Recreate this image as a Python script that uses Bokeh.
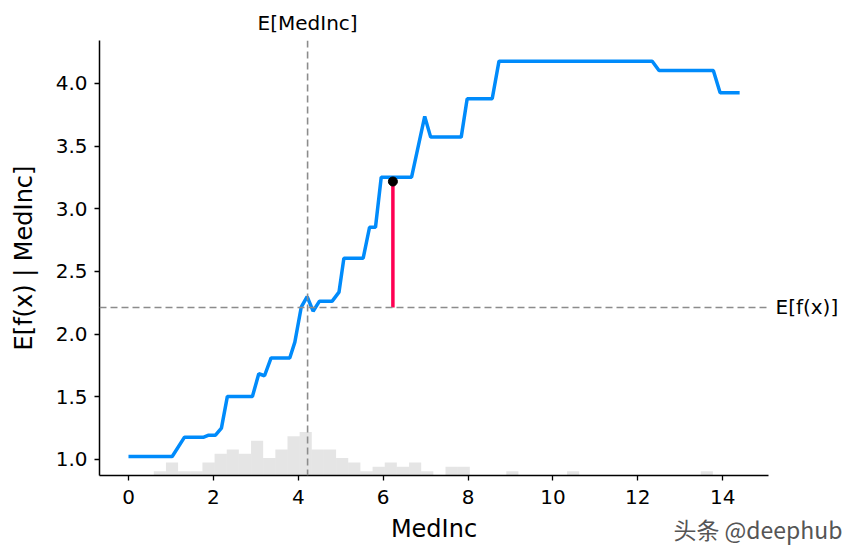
from bokeh.plotting import figure
from bokeh.models import Span, FixedTicker, ColumnDataSource, Range1d, LinearAxis, Title
from bokeh.embed import file_html
from bokeh.resources import INLINE

# ---- data ----
pdp_x = [0.0, 1.03, 1.32, 1.775, 1.89, 2.05, 2.19, 2.33, 2.92, 3.07, 3.205, 3.36, 3.80, 3.92,
         4.07, 4.21, 4.35, 4.50, 4.80, 4.96, 5.075, 5.53, 5.68, 5.82, 5.955, 6.67, 6.98, 7.12,
         7.84, 7.98, 8.57, 8.73, 12.34, 12.50, 13.78, 13.94, 14.40]
pdp_y = [1.024, 1.024, 1.178, 1.178, 1.194, 1.194, 1.25, 1.503, 1.503, 1.684, 1.668, 1.81, 1.81, 1.936,
         2.215, 2.30, 2.183, 2.263, 2.263, 2.335, 2.606, 2.606, 2.853, 2.853, 3.252, 3.252, 3.737, 3.572,
         3.572, 3.878, 3.878, 4.178, 4.178, 4.104, 4.104, 3.926, 3.926]

hist_start = 0.596
hist_width = 0.2864
hist_counts = [1, 3, 1, 1, 3, 5, 6, 5, 8, 4, 6, 9, 10, 6, 6, 4, 3, 1, 2, 3, 2, 3, 1, 0, 2, 2, 0, 0, 0, 1,
               0, 0, 0, 0, 1, 0, 0, 0, 0, 0, 0, 0, 0, 0, 0, 1, 0, 0, 0, 0]
n_samples = 100

expected_x = 4.22        # E[MedInc]
expected_fx = 2.213      # E[f(x)]
sample_x = 6.23
sample_y = 3.218

x_ticks = [0, 2, 4, 6, 8, 10, 12, 14]
y_ticks = [1.0, 1.5, 2.0, 2.5, 3.0, 3.5, 4.0]

x_lo, x_hi = -0.683, 15.08
y_lo, y_hi = 0.872, 4.343

FONT = "DejaVu Sans"

p = figure(width=850, height=550, output_backend="svg", toolbar_location=None,
           x_range=Range1d(x_lo, x_hi), y_range=Range1d(y_lo, y_hi),
           min_border_left=99, min_border_right=82, min_border_top=40, min_border_bottom=75)
p.outline_line_color = None
p.grid.visible = False
p.background_fill_color = "white"
p.border_fill_color = "white"

# histogram
lefts = [hist_start + i * hist_width for i in range(len(hist_counts))]
rights = [l + hist_width for l in lefts]
tops = [y_lo + c * (y_hi - y_lo) / n_samples for c in hist_counts]
bsrc = ColumnDataSource(dict(left=lefts, right=rights, top=tops, bottom=[y_lo] * len(tops)))
p.quad(left="left", right="right", top="top", bottom="bottom", source=bsrc,
       fill_color="black", fill_alpha=0.1, line_color=None)

# expected value lines
p.add_layout(Span(location=expected_x, dimension="height", line_color="#8c8c8c",
                  line_width=1.6, line_dash="7 4"))
p.add_layout(Span(location=expected_fx, dimension="width", line_color="#8c8c8c",
                  line_width=1.6, line_dash="7 4"))

# pdp line
p.line(pdp_x, pdp_y, line_color="#008bfb", line_width=3.5)

# sample
p.segment(x0=[sample_x], y0=[expected_fx], x1=[sample_x], y1=[sample_y],
          line_color="#ff0052", line_width=3.5)
p.scatter([sample_x], [sample_y], size=9, fill_color="black", line_color="black")

# axes
p.xaxis.ticker = FixedTicker(ticks=x_ticks)
p.yaxis.ticker = FixedTicker(ticks=y_ticks)
p.yaxis.major_label_overrides = {t: f"{t:.1f}" for t in y_ticks}
p.xaxis.axis_label = "MedInc"
p.yaxis.axis_label = "E[f(x) | MedInc]"
for ax in (p.xaxis, p.yaxis):
    ax.axis_line_color = "black"
    ax.axis_line_width = 1.5
    ax.major_tick_line_color = "black"
    ax.major_tick_line_width = 1.3
    ax.major_tick_out = 5
    ax.major_tick_in = 0
    ax.minor_tick_line_color = None
    ax.major_label_text_font = FONT
    ax.major_label_text_font_size = "20px"
    ax.major_label_text_color = "black"
    ax.axis_label_text_font = FONT
    ax.axis_label_text_font_size = "24px"
    ax.axis_label_text_font_style = "normal"
    ax.axis_label_text_color = "black"
    ax.major_label_standoff = 7
p.xaxis.major_label_standoff = 9
p.xaxis.axis_label_standoff = 8
p.yaxis.axis_label_standoff = 15

# label axes for expected values
top_ax = LinearAxis(ticker=FixedTicker(ticks=[expected_x]),
                    major_label_overrides={expected_x: "E[MedInc]"},
                    axis_line_color=None, major_tick_line_color=None, minor_tick_line_color=None,
                    major_tick_out=0, major_tick_in=0, major_label_standoff=6,
                    major_label_text_font=FONT, major_label_text_font_size="20px",
                    major_label_text_color="black")
p.add_layout(top_ax, "above")
right_ax = LinearAxis(ticker=FixedTicker(ticks=[expected_fx]),
                      major_label_overrides={expected_fx: "E[f(x)]"},
                      axis_line_color=None, major_tick_line_color=None, minor_tick_line_color=None,
                      major_tick_out=0, major_tick_in=0, major_label_standoff=7,
                      major_label_text_font=FONT, major_label_text_font_size="20px",
                      major_label_text_color="black")
p.add_layout(right_ax, "right")

# watermark
p.add_layout(Title(text="头条 @deephub", align="right", offset=-74, standoff=-68,
                   vertical_align="top",
                   text_font="Noto Sans CJK SC", text_font_size="23px",
                   text_font_style="normal", text_color="#555555"), "below")

open("out.html", "w").write(file_html(p, INLINE))
